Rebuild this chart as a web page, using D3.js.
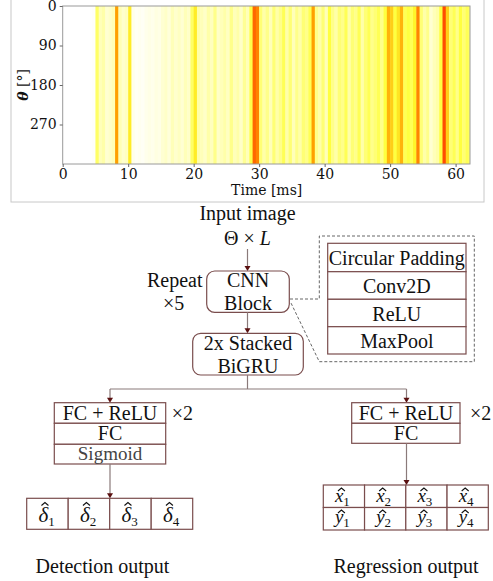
<!DOCTYPE html>
<html><head><meta charset="utf-8">
<script src="https://cdn.jsdelivr.net/npm/d3@7"></script>
<style>body{margin:0;background:#fff}svg{display:block}</style>
</head><body>
<script>
// ---- data ----
const binWidth = 0.5; // ms per column
const intensity = [
 0,0,0,0,0,0,0,0,0,0.02,
 0.45,0.28,0.32,0.18,0.22,0.28,0.8,0.3,0.2,0.25,
 0.6,0.08,0.04,0.06,0.04,0.08,0.1,0.08,0.12,0.1,
 0.18,0.22,0.15,0.28,0.2,0.25,0.18,0.28,0.22,0.45,
 0.6,0.32,0.28,0.22,0.32,0.26,0.38,0.22,0.28,0.32,
 0.25,0.38,0.28,0.32,0.22,0.36,0.28,0.5,0.9,0.85,
 0.42,0.32,0.38,0.28,0.42,0.32,0.38,0.48,0.32,0.42,
 0.28,0.38,0.32,0.42,0.38,0.48,0.8,0.38,0.32,0.42,
 0.28,0.52,0.38,0.32,0.42,0.38,0.48,0.32,0.42,0.38,
 0.48,0.32,0.42,0.48,0.38,0.42,0.48,0.38,0.52,0.75,
 0.68,0.52,0.62,0.75,0.48,0.52,0.48,0.58,0.85,0.42,
 0.32,0.38,0.18,0.28,0.32,0.52,0.95,0.68,0.42,0.48,
 0.38,0.52,0.42,0.48,0.42
];
const timeTicks = [0,10,20,30,40,50,60];
const thetaTicks = [0,90,180,270];
const timeMax = 62.2, thetaMax = 360;
const cnnLayers = ["Circular Padding","Conv2D","ReLU","MaxPool"];
const detLayers = ["FC + ReLU","FC","Sigmoid"];
const regLayers = ["FC + ReLU","FC"];
const detOut = ["δ","δ","δ","δ"];
const regOutX = ["x","x","x","x"];
const regOutY = ["y","y","y","y"];

const W = 493, H = 581;
const svg = d3.select("body").append("svg").attr("width",W).attr("height",H);

// ---- heatmap ----
const P = {l:62.7, r:470, t:6, b:164};
const x = d3.scaleLinear().domain([0,timeMax]).range([P.l,P.r]);
const y = d3.scaleLinear().domain([0,thetaMax]).range([P.t,P.b]);
const color = d3.scaleLinear().domain([0,0.3,0.55,0.8,1])
  .range(["#ffffff","#ffffb4","#ffff30","#ffa000","#ff3000"]).clamp(true);

svg.append("rect").attr("x",11).attr("y",-2).attr("width",473).attr("height",204)
  .attr("fill","none").attr("stroke","#c8c8c8");

svg.append("clipPath").attr("id","pc").append("rect")
  .attr("x",P.l).attr("y",P.t).attr("width",P.r-P.l).attr("height",P.b-P.t);
svg.append("g").attr("clip-path","url(#pc)").selectAll("rect").data(intensity).join("rect")
  .attr("x",(d,i)=>x(i*binWidth)).attr("width",(d,i)=>x((i+1)*binWidth)-x(i*binWidth)+0.4)
  .attr("y",y(0)).attr("height",y(thetaMax)-y(0)).attr("fill",d=>color(d));

svg.append("rect").attr("x",P.l).attr("y",P.t).attr("width",P.r-P.l).attr("height",P.b-P.t)
  .attr("fill","none").attr("stroke","#9a9a9a").attr("stroke-width",1);

const ax = svg.append("g").attr("transform",`translate(0,${P.b})`)
  .call(d3.axisBottom(x).tickValues(timeTicks).tickSize(3).tickPadding(2));
const ay = svg.append("g").attr("transform",`translate(${P.l},0)`)
  .call(d3.axisLeft(y).tickValues(thetaTicks).tickSize(3).tickPadding(3));
[ax,ay].forEach(g=>{
  g.select(".domain").remove();
  g.selectAll("line").attr("stroke","#666");
  g.selectAll("text").attr("font-family","DejaVu Serif").attr("font-size",14).attr("fill","#111");
});
svg.append("text").attr("x",266.7).attr("y",195).attr("text-anchor","middle")
  .attr("font-family","DejaVu Serif").attr("font-size",14).attr("fill","#111").text("Time [ms]");
const yl = svg.append("text").attr("transform","translate(28,85) rotate(-90)").attr("text-anchor","middle")
  .attr("font-family","DejaVu Serif").attr("font-size",14).attr("fill","#111");
yl.append("tspan").attr("font-style","italic").attr("font-weight","bold").text("θ");
yl.append("tspan").text(" [°]");

// ---- diagram ----
const boxC = "#7a4d4d", lineC = "#8a7a7a", headC = "#5a1010", txtC = "#111";
const serif = "Liberation Serif";
function txt(xx,yy,s,opts={}){
  return svg.append("text").attr("x",xx).attr("y",yy).attr("text-anchor",opts.anchor||"middle")
    .attr("font-family",serif).attr("font-size",opts.size||20).attr("fill",opts.fill||txtC).text(s);
}
function arrow(x1,y1,x2,y2){
  svg.append("line").attr("x1",x1).attr("y1",y1).attr("x2",x2).attr("y2",y2-3)
    .attr("stroke",lineC).attr("stroke-width",1.2);
  svg.append("path").attr("d",`M${x2-3},${y2-5}L${x2+3},${y2-5}L${x2},${y2}Z`).attr("fill",headC);
}
function line(pts){
  svg.append("path").attr("d",d3.line()(pts)).attr("fill","none").attr("stroke",lineC).attr("stroke-width",1.2);
}
function table(x0,x1,rows,labels){
  for(let i=0;i<labels.length;i++){
    svg.append("rect").attr("x",x0).attr("y",rows[i]).attr("width",x1-x0).attr("height",rows[i+1]-rows[i])
      .attr("fill","#fff").attr("stroke",boxC).attr("stroke-width",1.2);
  }
}

txt(247.5,220,"Input image");
const th = svg.append("text").attr("x",247.5).attr("y",245).attr("text-anchor","middle")
  .attr("font-family",serif).attr("font-size",20).attr("fill",txtC);
th.append("tspan").text("Θ × ");
th.append("tspan").attr("font-style","italic").text("L");
arrow(247.5,249,247.5,271);

svg.append("rect").attr("x",206.7).attr("y",271).attr("width",82.6).attr("height",41.3).attr("rx",8)
  .attr("fill","#fff").attr("stroke",boxC).attr("stroke-width",1.2);
txt(248,287,"CNN"); txt(248,310,"Block");
txt(202.5,287,"Repeat",{anchor:"end"});
txt(163,310,"×5",{anchor:"start"});
arrow(247.5,312.3,247.5,333.3);

svg.append("rect").attr("x",192.7).attr("y",333.3).attr("width",110.6).attr("height",41.7).attr("rx",8)
  .attr("fill","#fff").attr("stroke",boxC).attr("stroke-width",1.2);
txt(248,350,"2x Stacked"); txt(248,373,"BiGRU");

// callout
svg.append("path").attr("d",d3.line()([[290,299],[319.3,299],[319.3,236],[474.3,236],[474.3,361.7],[319.3,361.7],[291,303]]))
  .attr("fill","none").attr("stroke","#666").attr("stroke-width",1).attr("stroke-dasharray","3,2");
const cnnRows = [243.3,271.7,299.3,326.7,354];
table(327.7,466,cnnRows,cnnLayers);
const cnnBase = [265,293,321,348];
cnnLayers.forEach((s,i)=>txt(396.8,cnnBase[i],s));

// split
line([[247.5,375],[247.5,389]]);
line([[110,389],[406.5,389]]);
arrow(110,389,110,402.7);
arrow(406.5,389,406.5,402.7);

const detRows = [402.7,423.3,444.3,464];
table(54.3,165.7,detRows,detLayers);
const detBase = [419.5,440,459.5];
detLayers.forEach((s,i)=>txt(110,detBase[i],s,{fill: i===2?"#444":txtC, size: i===2?19:20}));
txt(171.7,419.5,"×2",{anchor:"start"});
arrow(110,464,110,498.3);

const regRows = [402.7,423.3,443.3];
table(351.7,460,regRows,regLayers);
regLayers.forEach((s,i)=>txt(406,detBase[i],s));
txt(470,419.5,"×2",{anchor:"start"});
arrow(406.5,443.3,406.5,485);

// outputs: italic letter, separate hat, upright subscript
function hatSym(cx,base,ch,sub,hatY,size){
  const g = svg.append("g");
  const t = g.append("text").attr("x",cx-9).attr("y",base).attr("text-anchor","start")
    .attr("font-family",serif).attr("font-size",size).attr("fill",txtC);
  t.append("tspan").attr("font-style","italic").text(ch);
  t.append("tspan").attr("font-size",13).attr("dy",3.5).text(sub);
  const hx = cx - 9 + 6.5;
  g.append("path").attr("d",`M${hx-3.5},${hatY+3}L${hx},${hatY}L${hx+3.5},${hatY+3}`)
    .attr("fill","none").attr("stroke",txtC).attr("stroke-width",1.1);
}
const dX0=26.7, dX1=192.7, dY0=498.3, dY1=529.3;
const dw = (dX1-dX0)/detOut.length;
detOut.forEach((c,i)=>{
  svg.append("rect").attr("x",dX0+i*dw).attr("y",dY0).attr("width",dw).attr("height",dY1-dY0)
    .attr("fill","#fff").attr("stroke",boxC).attr("stroke-width",1.2);
});
detOut.forEach((c,i)=>hatSym(dX0+i*dw+dw/2,522,c,String(i+1),502.5,21));

const rX0=323.3, rX1=488.3, rY=[485,507.5,530];
const rw = (rX1-rX0)/regOutX.length;
[regOutX,regOutY].forEach((arr,r)=>{
  arr.forEach((c,i)=>{
    svg.append("rect").attr("x",rX0+i*rw).attr("y",rY[r]).attr("width",rw).attr("height",rY[r+1]-rY[r])
      .attr("fill","#fff").attr("stroke",boxC).attr("stroke-width",1.2);
  });
});
regOutX.forEach((c,i)=>hatSym(rX0+i*rw+rw/2,502,c,String(i+1),488,19));
regOutY.forEach((c,i)=>hatSym(rX0+i*rw+rw/2,523,c,String(i+1),510,19));

txt(102.5,573,"Detection output");
txt(406,573,"Regression output");
</script>
</body></html>
